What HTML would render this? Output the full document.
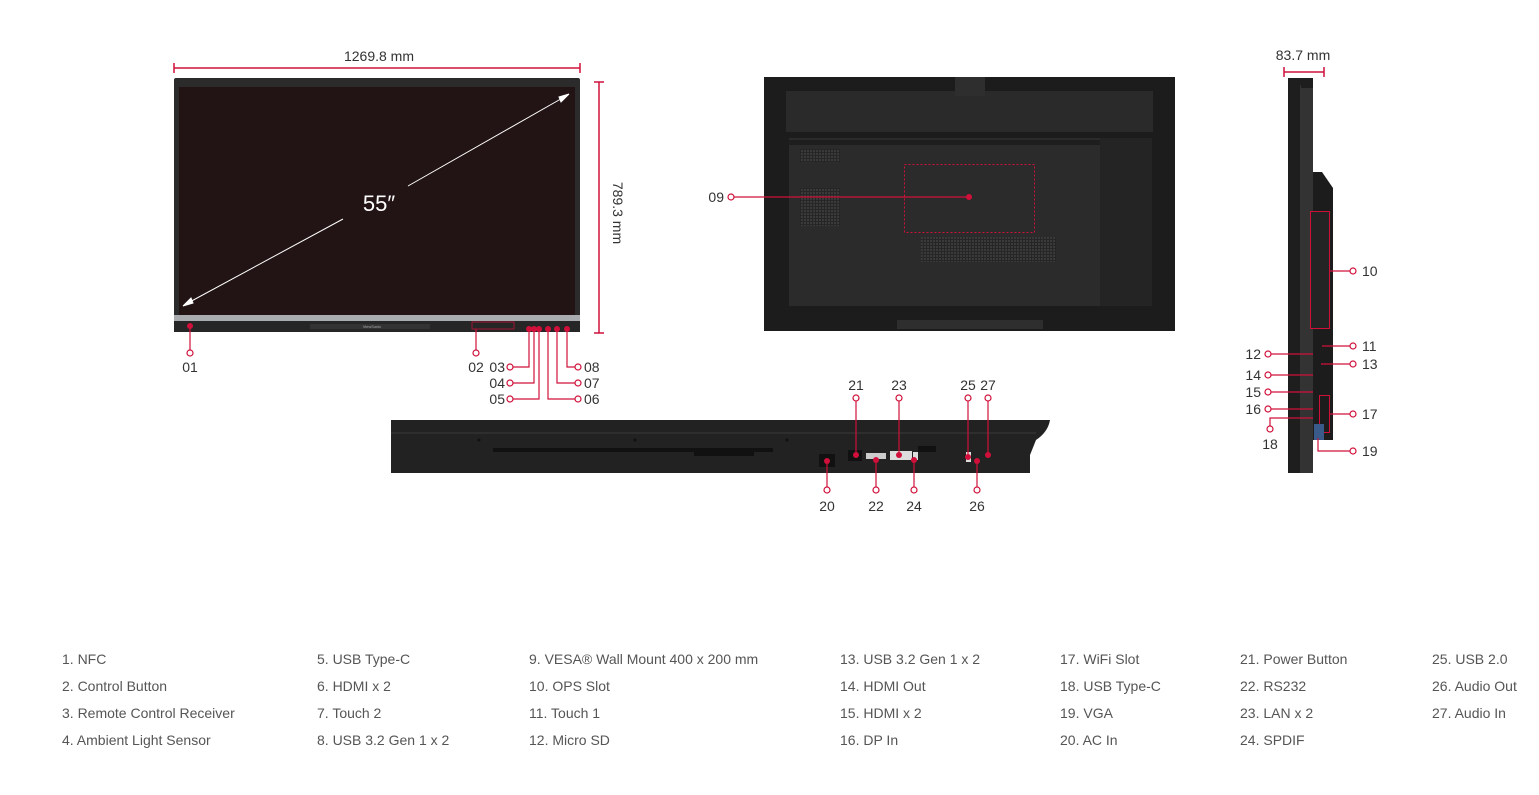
<!DOCTYPE html>
<html><head><meta charset="utf-8"><style>
html,body{margin:0;padding:0;background:#fff}
svg{display:block}
.n{font-family:"Liberation Sans",sans-serif;font-size:14px;fill:#333}
.l{font-family:"Liberation Sans",sans-serif;font-size:14px;fill:#555}
</style></head><body>
<svg width="1539" height="795" viewBox="0 0 1539 795" xmlns="http://www.w3.org/2000/svg">
<defs>
<pattern id="grid" width="3" height="3" patternUnits="userSpaceOnUse"><rect width="3" height="3" fill="#262626"/><rect width="2" height="2" fill="#3a3a3a"/></pattern>
</defs>
<g stroke="#d0103a" stroke-width="1.5" fill="none">
<!-- dimension lines -->
<line x1="174" y1="68" x2="580" y2="68"/><line x1="174" y1="63" x2="174" y2="73"/><line x1="580" y1="63" x2="580" y2="73"/>
<line x1="599" y1="82" x2="599" y2="333"/><line x1="594" y1="82" x2="604" y2="82"/><line x1="594" y1="333" x2="604" y2="333"/>
<line x1="1284" y1="72" x2="1324" y2="72"/><line x1="1284" y1="67" x2="1284" y2="77"/><line x1="1324" y1="67" x2="1324" y2="77"/>
</g>
<text class="n" x="379" y="61" text-anchor="middle">1269.8 mm</text>
<text class="n" x="1303" y="60" text-anchor="middle">83.7 mm</text>
<text class="n" transform="translate(613,213) rotate(90)" text-anchor="middle">789.3 mm</text>

<!-- front -->
<rect x="174" y="78" width="406" height="254" rx="2" fill="#2b2b2b"/>
<rect x="179" y="87" width="396" height="228" fill="#221314"/>
<rect x="174" y="315" width="406" height="6" fill="#a8acae"/>
<rect x="174" y="321" width="406" height="11" fill="#262626"/>
<rect x="310" y="324" width="120" height="5" fill="#333"/>
<text x="372" y="328" font-family="Liberation Sans" font-size="4" fill="#aaa" text-anchor="middle">ViewSonic</text>
<rect x="472" y="322" width="42" height="7" fill="none" stroke="#d0103a" stroke-width="0.7"/>
<g stroke="#fff" stroke-width="1" fill="#fff">
<line x1="186" y1="304" x2="343" y2="219"/>
<line x1="408" y1="186" x2="566" y2="96"/>
<polygon points="183,306 191,298 193,303"/>
<polygon points="569,94 561,102 559,97"/>
</g>
<text x="379" y="211" font-family="Liberation Sans" font-size="22" fill="#fff" text-anchor="middle">55″</text>

<!-- back -->
<rect x="764" y="77" width="411" height="254" fill="#1c1c1c"/>
<rect x="786" y="91" width="367" height="41" fill="#2a2a2a"/>
<rect x="955" y="77" width="30" height="19" fill="#2e2e2e"/>
<rect x="789" y="138" width="311" height="168" fill="#2b2b2b"/>
<rect x="1100" y="138" width="52" height="168" fill="#242424"/>
<rect x="789" y="140" width="311" height="5" fill="#1e1e1e"/>
<rect x="800" y="149" width="40" height="13" fill="url(#grid)"/>
<rect x="800" y="188" width="40" height="38" fill="url(#grid)"/>
<rect x="921" y="237" width="135" height="25" fill="url(#grid)"/>
<rect x="897" y="320" width="146" height="9" fill="#2e2e2e"/>
<rect x="904.5" y="164.5" width="130" height="68" fill="none" stroke="#d0103a" stroke-width="1" stroke-dasharray="2,2"/>
<line x1="733" y1="197" x2="969" y2="197" stroke="#d0103a" stroke-width="1.2"/>
<circle cx="969" cy="197" r="3" fill="#d0103a"/>

<!-- side -->
<rect x="1288" y="78" width="13" height="395" fill="#1e1e1e"/>
<rect x="1300" y="85" width="13" height="388" fill="#333"/>
<polygon points="1301,78 1313,78 1313,88 1301,88" fill="#1e1e1e"/>
<polygon points="1313,172 1322,172 1333,188 1333,440 1313,440" fill="#1c1c1c"/>
<rect x="1310.5" y="211.5" width="19" height="117" fill="#242424" stroke="#d0103a" stroke-width="1"/>
<rect x="1319.5" y="395.5" width="10" height="37" fill="none" stroke="#d0103a" stroke-width="1"/>
<rect x="1314" y="424" width="10" height="16" fill="#3a5a8a"/>

<!-- bottom -->
<path d="M391,420 H1050 Q1048,432 1036,440 L1030,455 V473 H391 Z" fill="#222"/>
<line x1="391" y1="433" x2="1036" y2="433" stroke="#444" stroke-width="0.8"/>
<rect x="493" y="448" width="280" height="4" fill="#111"/>
<rect x="694" y="452" width="60" height="4" fill="#111"/>
<circle cx="479" cy="440" r="1.5" fill="#111"/><circle cx="635" cy="440" r="1.5" fill="#111"/><circle cx="787" cy="440" r="1.5" fill="#111"/>
<rect x="819" y="454" width="16" height="13" fill="#111"/>
<rect x="848" y="450" width="14" height="11" fill="#111"/>
<rect x="866" y="453" width="20" height="6" fill="#ccc"/>
<rect x="890" y="451" width="22" height="9" fill="#ddd"/>
<rect x="913" y="452" width="5" height="8" fill="#ddd"/>
<rect x="918" y="446" width="18" height="6" fill="#111"/>
<rect x="966" y="452" width="5" height="10" fill="#ddd"/>

<g stroke="#d0103a" stroke-width="1.2" fill="none">
<!-- front callouts -->
<line x1="190" y1="326" x2="190" y2="350"/><circle cx="190" cy="353" r="3" fill="#fff"/>
<line x1="476" y1="329" x2="476" y2="350"/><circle cx="476" cy="353" r="3" fill="#fff"/>
<polyline points="513,367 529,367 529,329"/><circle cx="510" cy="367" r="3" fill="#fff"/>
<polyline points="513,383 534,383 534,329"/><circle cx="510" cy="383" r="3" fill="#fff"/>
<polyline points="513,399 539,399 539,329"/><circle cx="510" cy="399" r="3" fill="#fff"/>
<polyline points="548,329 548,399 575,399"/><circle cx="578" cy="399" r="3" fill="#fff"/>
<polyline points="557,329 557,383 575,383"/><circle cx="578" cy="383" r="3" fill="#fff"/>
<polyline points="567,329 567,367 575,367"/><circle cx="578" cy="367" r="3" fill="#fff"/>
<circle cx="731" cy="197" r="3" fill="#fff"/>
<!-- side callouts -->
<line x1="1330" y1="271" x2="1350" y2="271"/><circle cx="1353" cy="271" r="3" fill="#fff"/>
<line x1="1322" y1="346" x2="1350" y2="346"/><circle cx="1353" cy="346" r="3" fill="#fff"/>
<line x1="1271" y1="354" x2="1313" y2="354"/><circle cx="1268" cy="354" r="3" fill="#fff"/>
<line x1="1321" y1="364" x2="1350" y2="364"/><circle cx="1353" cy="364" r="3" fill="#fff"/>
<line x1="1271" y1="375" x2="1313" y2="375"/><circle cx="1268" cy="375" r="3" fill="#fff"/>
<line x1="1271" y1="392" x2="1313" y2="392"/><circle cx="1268" cy="392" r="3" fill="#fff"/>
<line x1="1271" y1="409" x2="1313" y2="409"/><circle cx="1268" cy="409" r="3" fill="#fff"/>
<line x1="1330" y1="414" x2="1350" y2="414"/><circle cx="1353" cy="414" r="3" fill="#fff"/>
<polyline points="1313,418 1270,418 1270,426"/><circle cx="1270" cy="429" r="3" fill="#fff"/>
<polyline points="1318,438 1318,451 1350,451"/><circle cx="1353" cy="451" r="3" fill="#fff"/>
<!-- bottom callouts -->
<line x1="827" y1="461" x2="827" y2="487"/><circle cx="827" cy="490" r="3" fill="#fff"/>
<line x1="876" y1="460" x2="876" y2="487"/><circle cx="876" cy="490" r="3" fill="#fff"/>
<line x1="914" y1="460" x2="914" y2="487"/><circle cx="914" cy="490" r="3" fill="#fff"/>
<line x1="977" y1="461" x2="977" y2="487"/><circle cx="977" cy="490" r="3" fill="#fff"/>
<line x1="856" y1="401" x2="856" y2="455"/><circle cx="856" cy="398" r="3" fill="#fff"/>
<line x1="899" y1="401" x2="899" y2="455"/><circle cx="899" cy="398" r="3" fill="#fff"/>
<line x1="968" y1="401" x2="968" y2="457"/><circle cx="968" cy="398" r="3" fill="#fff"/>
<line x1="988" y1="401" x2="988" y2="455"/><circle cx="988" cy="398" r="3" fill="#fff"/>
</g>
<g fill="#d0103a">
<circle cx="190" cy="326" r="3"/><circle cx="529" cy="329" r="3"/><circle cx="534" cy="329" r="3"/><circle cx="539" cy="329" r="3"/>
<circle cx="548" cy="329" r="3"/><circle cx="557" cy="329" r="3"/><circle cx="567" cy="329" r="3"/>
<circle cx="827" cy="461" r="3"/><circle cx="876" cy="460" r="3"/><circle cx="914" cy="460" r="3"/><circle cx="977" cy="461" r="3"/>
<circle cx="856" cy="455" r="3"/><circle cx="899" cy="455" r="3"/><circle cx="968" cy="457" r="3"/><circle cx="988" cy="455" r="3"/>
</g>

<g class="n">
<text x="190" y="372" text-anchor="middle">01</text>
<text x="476" y="372" text-anchor="middle">02</text>
<text x="505" y="372" text-anchor="end">03</text>
<text x="505" y="388" text-anchor="end">04</text>
<text x="505" y="404" text-anchor="end">05</text>
<text x="584" y="372">08</text>
<text x="584" y="388">07</text>
<text x="584" y="404">06</text>
<text x="724" y="202" text-anchor="end">09</text>
<text x="1362" y="276">10</text>
<text x="1362" y="351">11</text>
<text x="1261" y="359" text-anchor="end">12</text>
<text x="1362" y="369">13</text>
<text x="1261" y="380" text-anchor="end">14</text>
<text x="1261" y="397" text-anchor="end">15</text>
<text x="1261" y="414" text-anchor="end">16</text>
<text x="1362" y="419">17</text>
<text x="1270" y="449" text-anchor="middle">18</text>
<text x="1362" y="456">19</text>
<text x="827" y="511" text-anchor="middle">20</text>
<text x="876" y="511" text-anchor="middle">22</text>
<text x="914" y="511" text-anchor="middle">24</text>
<text x="977" y="511" text-anchor="middle">26</text>
<text x="856" y="390" text-anchor="middle">21</text>
<text x="899" y="390" text-anchor="middle">23</text>
<text x="968" y="390" text-anchor="middle">25</text>
<text x="988" y="390" text-anchor="middle">27</text>
</g>

<g class="l">
<text x="62" y="664">1. NFC</text>
<text x="62" y="691">2. Control Button</text>
<text x="62" y="718">3. Remote Control Receiver</text>
<text x="62" y="745">4. Ambient Light Sensor</text>
<text x="317" y="664">5. USB Type-C</text>
<text x="317" y="691">6. HDMI x 2</text>
<text x="317" y="718">7. Touch 2</text>
<text x="317" y="745">8. USB 3.2 Gen 1 x 2</text>
<text x="529" y="664">9. VESA® Wall Mount 400 x 200 mm</text>
<text x="529" y="691">10. OPS Slot</text>
<text x="529" y="718">11. Touch 1</text>
<text x="529" y="745">12. Micro SD</text>
<text x="840" y="664">13. USB 3.2 Gen 1 x 2</text>
<text x="840" y="691">14. HDMI Out</text>
<text x="840" y="718">15. HDMI x 2</text>
<text x="840" y="745">16. DP In</text>
<text x="1060" y="664">17. WiFi Slot</text>
<text x="1060" y="691">18. USB Type-C</text>
<text x="1060" y="718">19. VGA</text>
<text x="1060" y="745">20. AC In</text>
<text x="1240" y="664">21. Power Button</text>
<text x="1240" y="691">22. RS232</text>
<text x="1240" y="718">23. LAN x 2</text>
<text x="1240" y="745">24. SPDIF</text>
<text x="1432" y="664">25. USB 2.0</text>
<text x="1432" y="691">26. Audio Out</text>
<text x="1432" y="718">27. Audio In</text>
</g>
</svg>
</body></html>
